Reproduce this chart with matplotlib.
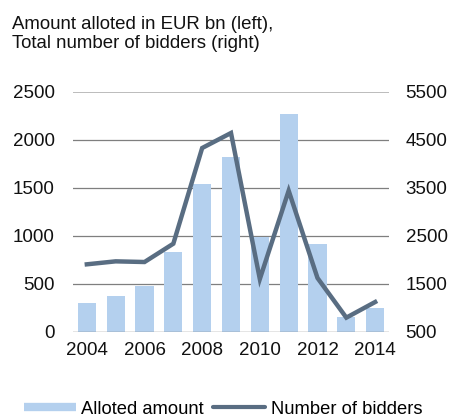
import matplotlib
matplotlib.use("Agg")
from matplotlib import pyplot as plt
from matplotlib.lines import Line2D
import numpy as np

# Data
years = [2004, 2005, 2006, 2007, 2008, 2009, 2010, 2011, 2012, 2013, 2014]
alloted = [302, 378, 479, 837, 1545, 1826, 990, 2274, 920, 153, 247]
bidders = [1910, 1972, 1958, 2340, 4333, 4646, 1604, 3444, 1625, 799, 1125]
tick_years = [2004, 2006, 2008, 2010, 2012, 2014]

bar_color = '#b4d0ee'
line_color = '#596d82'

plt.rcParams['font.family'] = ['Liberation Sans', 'DejaVu Sans']

fig = plt.figure(figsize=(4.49, 4.18), dpi=100)
ax = fig.add_axes([73 / 449, 1 - 332 / 418, (389 - 73) / 449, (332 - 92) / 418])
ax2 = ax.twinx()

x = np.arange(len(years))
ax.bar(x, alloted, width=0.625, color=bar_color, zorder=2)
ax2.plot(x, bidders, color=line_color, linewidth=3.2, solid_joinstyle='miter', zorder=3)

ax.set_xlim(-0.48, 10.48)
ax.set_ylim(0, 2500)
ax2.set_ylim(500, 5500)
ax.set_yticks([0, 500, 1000, 1500, 2000, 2500])
ax2.set_yticks([500, 1500, 2500, 3500, 4500, 5500])
ax.set_xticks([years.index(y) for y in tick_years])
ax.set_xticklabels([str(y) for y in tick_years])

# horizontal gridlines
for v in [500, 1000, 1500, 2000]:
    ax.axhline(v, color='#7f7f7f', linewidth=0.9, zorder=1)
ax.axhline(2500, color='#b0b0b0', linewidth=1.2, zorder=1)
ax.axhline(0, color='#7f7f7f', linewidth=1.0, zorder=4)

for a in (ax, ax2):
    for s in a.spines.values():
        s.set_visible(False)
    a.tick_params(length=0, labelsize=13.5, colors='#111111')
ax.tick_params(axis='y', pad=13)
ax2.tick_params(axis='y', pad=12)
ax.tick_params(axis='x', pad=7)
ax2.patch.set_visible(False)

fig.text(12 / 449, 1 - 34 / 418, 'Amount alloted in EUR bn (left),\nTotal number of bidders (right)',
         fontsize=13.4, va='center', ha='left', linespacing=1.22, color='#111111')

handles = [Line2D([0], [0], color=bar_color, linewidth=6, solid_capstyle='butt'),
           Line2D([0], [0], color=line_color, linewidth=3, solid_capstyle='round')]
fig.legend(handles, ['Alloted amount', 'Number of bidders'], loc='center',
           bbox_to_anchor=(223 / 449, 1 - 409 / 418), ncol=2, frameon=False, fontsize=13.2,
           handlelength=2.85, handletextpad=0.3, columnspacing=0.5, borderpad=0)

fig.savefig('out.png', dpi=100)
